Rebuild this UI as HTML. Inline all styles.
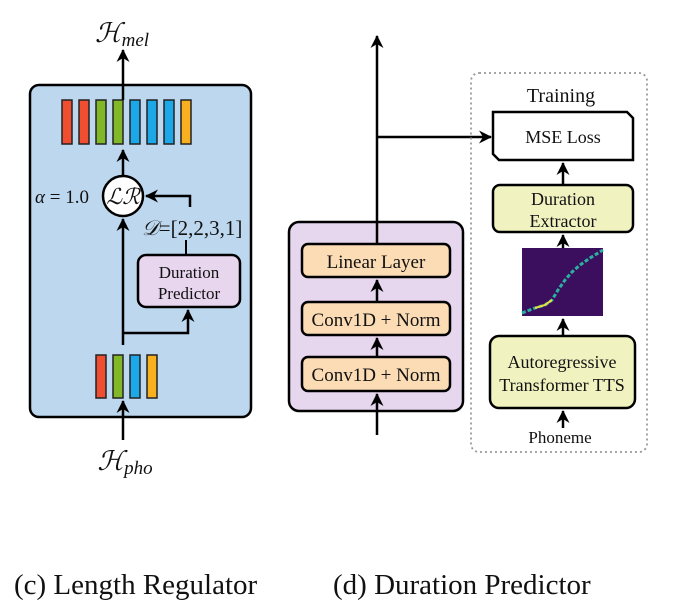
<!DOCTYPE html>
<html><head><meta charset="utf-8"><style>
html,body{margin:0;padding:0;background:#fff;width:675px;height:610px;overflow:hidden}
text{font-family:"Liberation Serif",serif;fill:#111}
</style></head><body>
<svg width="675" height="610" viewBox="0 0 675 610" xmlns="http://www.w3.org/2000/svg">
<defs>
<marker id="a" markerWidth="16" markerHeight="14" refX="12" refY="7" orient="auto" markerUnits="userSpaceOnUse">
<path d="M0,0.5 L13,7 L0,13.5 L4,7 Z" fill="#000"/></marker>
</defs>
<g stroke="#000" stroke-width="2.5" fill="none">
<rect x="30" y="85" width="221" height="332" rx="9" fill="#bdd7ee"/>
</g>
<g stroke="#222" stroke-width="1.5">
<rect x="62" y="100" width="10" height="44" fill="#f04e30"/>
<rect x="79" y="100" width="10" height="44" fill="#f04e30"/>
<rect x="96" y="100" width="10" height="44" fill="#80b828"/>
<rect x="113" y="100" width="10" height="44" fill="#80b828"/>
<rect x="130" y="100" width="10" height="44" fill="#1ca8e8"/>
<rect x="147" y="100" width="10" height="44" fill="#1ca8e8"/>
<rect x="164" y="100" width="10" height="44" fill="#1ca8e8"/>
<rect x="181" y="100" width="10" height="44" fill="#f8b020"/>
<rect x="96" y="355" width="10" height="43" fill="#f04e30"/>
<rect x="113" y="355" width="10" height="43" fill="#80b828"/>
<rect x="130" y="355" width="10" height="43" fill="#1ca8e8"/>
<rect x="147" y="355" width="10" height="43" fill="#f8b020"/>
</g>
<g stroke="#000" stroke-width="2.5" fill="none">
<line x1="123" y1="100" x2="123" y2="50" marker-end="url(#a)"/>
<line x1="123" y1="176" x2="123" y2="150" marker-end="url(#a)"/>
<circle cx="123" cy="196" r="20" fill="#fff"/>
<polyline points="190,207 190,196 146,196" marker-end="url(#a)"/>
<line x1="186" y1="240" x2="186" y2="255" stroke-width="2"/>
<rect x="138" y="255" width="102" height="52" rx="8" fill="#e8d5ee"/>
<line x1="123" y1="345" x2="123" y2="219" marker-end="url(#a)"/>
<polyline points="123,333 188,333 188,310" marker-end="url(#a)"/>
<line x1="123" y1="440" x2="123" y2="401" marker-end="url(#a)"/>
</g>
<text x="122" y="42" font-size="27" font-style="italic" text-anchor="middle">ℋ<tspan font-size="19" dy="4">mel</tspan></text>
<text x="125" y="470" font-size="27" font-style="italic" text-anchor="middle">ℋ<tspan font-size="19" dy="4">pho</tspan></text>
<text x="123" y="204" font-size="22" font-style="italic" text-anchor="middle">ℒℛ</text>
<text x="35" y="203" font-size="19"><tspan font-style="italic">α</tspan> = 1.0</text>
<text x="142" y="235" font-size="21"><tspan font-style="italic">𝒟</tspan>=[2,2,3,1]</text>
<text x="189" y="278" font-size="17" text-anchor="middle">Duration</text>
<text x="189" y="299" font-size="17" text-anchor="middle">Predictor</text>

<g stroke="#000" stroke-width="2.5" fill="none">
<rect x="289" y="222" width="174" height="189" rx="10" fill="#e6d6ee"/>
<line x1="377" y1="435" x2="377" y2="394" marker-end="url(#a)"/>
<line x1="377" y1="357" x2="377" y2="338" marker-end="url(#a)"/>
<line x1="377" y1="302" x2="377" y2="280" marker-end="url(#a)"/>
<line x1="377" y1="244" x2="377" y2="36" marker-end="url(#a)"/>
<polyline points="377,137 491,137" marker-end="url(#a)"/>
<rect x="302" y="244" width="148" height="33" rx="6" fill="#fcdcb4"/>
<rect x="302" y="302" width="148" height="33" rx="6" fill="#fcdcb4"/>
<rect x="302" y="357" width="148" height="34" rx="6" fill="#fcdcb4"/>
</g>
<rect x="471" y="73" width="176" height="379" rx="8" fill="none" stroke="#999" stroke-width="1.8" stroke-dasharray="2,3"/>
<g stroke="#000" stroke-width="2.5" fill="none">
<polygon points="493,112 627,112 633,118 633,160 499,160 493,154" fill="#fff"/>
<rect x="493" y="185" width="140" height="47" rx="7" fill="#f0f2c0"/>
<rect x="490" y="336" width="145" height="72" rx="9" fill="#f0f2c0"/>
<line x1="563" y1="185" x2="563" y2="163" marker-end="url(#a)"/>
<line x1="563" y1="248" x2="563" y2="235" marker-end="url(#a)"/>
<line x1="563" y1="336" x2="563" y2="319" marker-end="url(#a)"/>
<line x1="563" y1="428" x2="563" y2="411" marker-end="url(#a)"/>
</g>
<rect x="522" y="248" width="81" height="68" fill="#3b0f5e"/>
<polyline points="522,313 535,308 545,305 552,300 558,290 565,280 572,272 580,265 590,258 603,250" fill="none" stroke="#2ab0a0" stroke-width="3" stroke-dasharray="4,2"/>
<polyline points="535,308 545,305 552,300" fill="none" stroke="#e8e040" stroke-width="2"/>
<text x="376" y="268" font-size="19" text-anchor="middle">Linear Layer</text>
<text x="376" y="326" font-size="19" text-anchor="middle">Conv1D + Norm</text>
<text x="376" y="381" font-size="19" text-anchor="middle">Conv1D + Norm</text>
<text x="561" y="102" font-size="20" text-anchor="middle">Training</text>
<text x="563" y="143" font-size="18" text-anchor="middle">MSE Loss</text>
<text x="563" y="205" font-size="18" text-anchor="middle">Duration</text>
<text x="563" y="227" font-size="18" text-anchor="middle">Extractor</text>
<text x="562" y="368" font-size="18" text-anchor="middle">Autoregressive</text>
<text x="562" y="391" font-size="18" text-anchor="middle">Transformer TTS</text>
<text x="560" y="443" font-size="17" text-anchor="middle">Phoneme</text>

<text x="14" y="594" font-size="29">(c) Length Regulator</text>
<text x="333" y="594" font-size="29">(d) Duration Predictor</text>
</svg>
</body></html>
